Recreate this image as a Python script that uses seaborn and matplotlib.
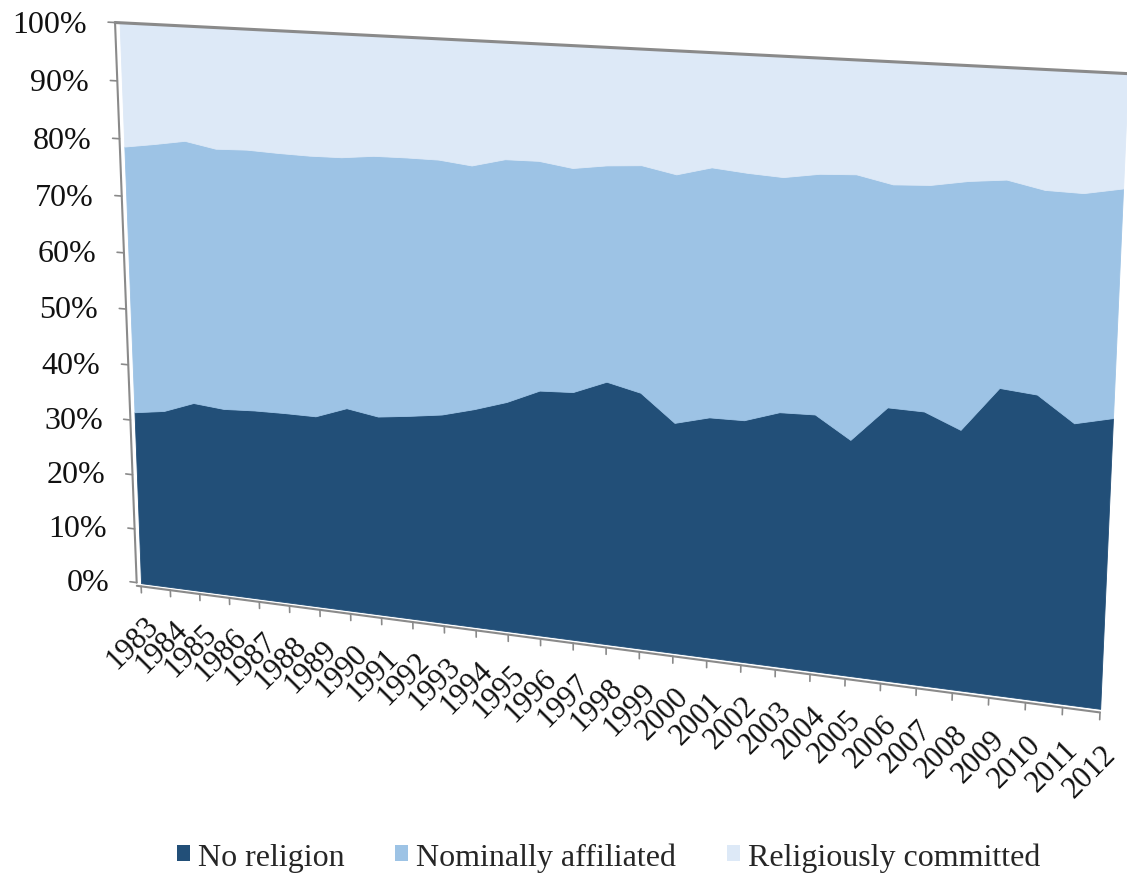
import matplotlib
matplotlib.use('Agg')
import numpy as np
import pandas as pd
import seaborn as sns
from matplotlib import pyplot as plt
from matplotlib.patches import Patch

# shares (percent of respondents)
years = list(range(1983, 2013))
no_religion = [31.5, 32.3, 34.3, 33.8, 34.1, 34.2, 34.2, 36.2, 35.3, 36.0,
               36.8, 38.3, 40.1, 42.6, 42.9, 45.2, 43.9, 39.4, 40.9, 41.0,
               42.9, 43.1, 39.5, 45.4, 45.3, 42.9, 50.2, 49.7, 45.7, 47.1]
nominally_affiliated = [47.2, 47.2, 46.1, 45.6, 45.5, 45.2, 45.1, 43.2, 44.7, 44.1,
                        43.3, 41.2, 40.8, 38.4, 37.3, 35.8, 37.5, 40.9, 40.9, 40.3,
                        38.1, 38.8, 42.7, 35.6, 36.0, 39.4, 32.7, 32.0, 35.9, 35.6]
religiously_committed = [21.3, 20.5, 19.6, 20.6, 20.4, 20.6, 20.7, 20.6, 20.0, 19.9,
                         19.9, 20.5, 19.1, 19.0, 19.8, 19.0, 18.6, 19.7, 18.2, 18.7,
                         19.0, 18.1, 17.8, 19.0, 18.7, 17.7, 17.1, 18.3, 18.4, 17.3]
series_names = ['No religion', 'Nominally affiliated', 'Religiously committed']
pct_ticks = list(range(0, 101, 10))

df = pd.DataFrame({'year': years,
                   series_names[0]: no_religion,
                   series_names[1]: nominally_affiliated,
                   series_names[2]: religiously_committed}).set_index('year')
# 100% stacked
shares = df.div(df.sum(axis=1), axis=0)
cum = shares.cumsum(axis=1)

sns.set_theme(style='white')
plt.rcParams['font.family'] = ['Liberation Serif', 'DejaVu Serif']
palette = sns.color_palette(['#224f78', '#9dc3e5', '#dde9f7'])

fig = plt.figure(figsize=(11.27, 8.78), dpi=100)
# big square 3d axes so the perspective plane fills the figure like the excel chart
ax = fig.add_axes([-0.0155, -0.093, 1.0490, 1.3464], projection='3d')
ax.set_proj_type('persp', focal_length=0.4455)
ax.view_init(elev=13.4, azim=-68.4, roll=0)
ax.set_box_aspect((1.721, 0.02, 1.0))
ax.set_xlim(years[0], years[-1])
ax.set_ylim(-1, 1)
ax.set_zlim(0, 1)
ax.set_axis_off()
ax.computed_zorder = False

x = np.array(years, dtype=float)
depth = np.zeros_like(x)
lower = np.zeros_like(x)
for name, color in zip(series_names, palette):
    upper = cum[name].to_numpy()
    ax.fill_between(x, depth, lower, x, depth, upper, mode='polygon',
                    facecolors=color, edgecolor=color, linewidth=0.6,
                    shade=False, zorder=1)
    lower = upper

# axis lines, ticks and the top edge of the slab
grey = '#8a8a8a'
x0 = years[0] - 0.15
ax.plot([x0, x0], [0, 0], [0, 1], color=grey, lw=1.5, zorder=3)
ax.plot([x0, years[-1]], [0, 0], [-0.006, -0.006], color=grey, lw=1.5, zorder=3)
ax.plot([x0, years[-1]], [0, 0], [1, 1], color=grey, lw=2.2, zorder=3)

for p in pct_ticks:
    z = p / 100
    ax.plot([years[0] - 0.38, x0], [0, 0], [z, z], color=grey, lw=1.2, zorder=3)
    ax.text(years[0] - 1.1, 0, z - 0.006, f'{p}%', ha='right', va='center',
            fontsize=23, color='#111111')

# Text3D forces its own angle, so project the label anchors with the
# axes' projection matrix and place rotated 2d text there
M = ax.get_proj()


def to_2d(px, py, pz):
    v = M @ np.array([px, py, pz, 1.0])
    return v[0] / v[3], v[1] / v[3]


for yr in years:
    ax.plot([yr, yr], [0, 0], [-0.006, -0.018], color=grey, lw=1.2, zorder=3)
    lx, ly = to_2d(yr + 0.05, 0, -0.05)
    ax.text2D(lx, ly, str(yr), transform=ax.transData, ha='right', va='top',
              rotation=45, rotation_mode='anchor', fontsize=22, color='#111111')

handles = [Patch(facecolor=c, edgecolor='none') for c in palette]
fig.legend(handles, series_names, loc='center', bbox_to_anchor=(0.54, 0.023),
           ncol=3, frameon=False, fontsize=23, handlelength=0.4,
           handleheight=0.4, handletextpad=0.25, columnspacing=1.6)

fig.savefig('out.png', dpi=100)
